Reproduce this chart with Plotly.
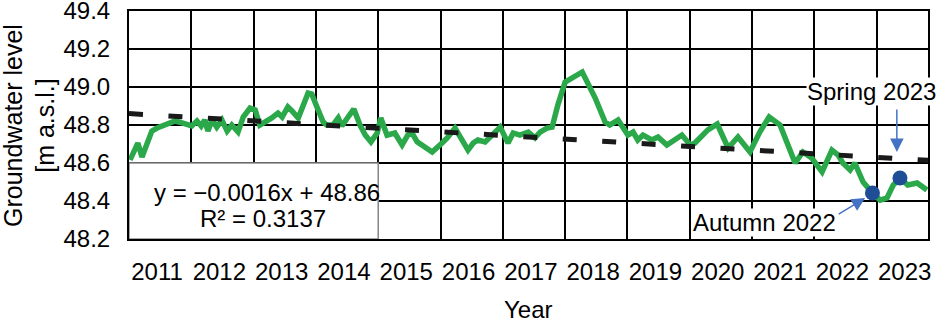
import plotly.graph_objects as go

# ---- data ----
# x = months since January 2011 (index used by the Excel trendline)
months = [0.2, 1.7, 2.5, 4.4, 5.4, 7.3, 8.9, 10.2, 12.1, 13.1, 13.9, 14.6, 15.2, 16.0, 16.9, 17.9,
          18.9, 19.8, 21.0, 22.0, 23.3, 24.3, 25.2, 27.5, 28.7, 29.5, 30.6, 31.4, 32.6, 34.5, 35.2,
          36.2, 37.4, 38.1, 39.3, 40.3, 41.0, 42.2, 43.3, 44.5, 45.5, 46.6, 47.8, 48.5, 49.7, 51.2,
          52.6, 53.7, 54.5, 55.5, 56.4, 58.4, 60.3, 61.3, 62.8, 64.1, 65.3, 66.3, 67.2, 68.6, 69.9,
          71.5, 73.0, 74.0, 75.3, 76.9, 78.2, 79.2, 80.5, 81.5, 82.6, 84.0, 87.3, 89.8, 91.7, 92.6,
          94.2, 96.1, 97.1, 98.0, 99.0, 100.7, 101.9, 103.6, 106.5, 108.1, 109.0, 111.5, 113.3, 115.4,
          117.3, 119.6, 121.5, 123.3, 125.4, 126.7, 128.3, 129.8, 131.5, 133.5, 135.4, 136.6, 137.5,
          138.9, 139.8, 141.4, 143.2, 144.7, 146.0, 147.2, 148.5, 150.0, 151.8, 153.7]
levels = [48.616, 48.705, 48.632, 48.768, 48.784, 48.800, 48.821, 48.811, 48.795, 48.821, 48.795,
          48.826, 48.768, 48.826, 48.789, 48.826, 48.768, 48.800, 48.763, 48.842, 48.889, 48.879,
          48.800, 48.837, 48.863, 48.842, 48.895, 48.874, 48.837, 48.968, 48.963, 48.895, 48.816,
          48.800, 48.800, 48.837, 48.795, 48.842, 48.884, 48.800, 48.747, 48.711, 48.758, 48.837,
          48.747, 48.758, 48.695, 48.747, 48.758, 48.711, 48.695, 48.658, 48.705, 48.732, 48.784,
          48.721, 48.668, 48.705, 48.721, 48.711, 48.747, 48.789, 48.705, 48.758, 48.747, 48.763,
          48.732, 48.763, 48.784, 48.789, 48.905, 49.026, 49.079, 48.942, 48.816, 48.800, 48.826,
          48.747, 48.763, 48.721, 48.747, 48.721, 48.737, 48.695, 48.747, 48.695, 48.705, 48.774,
          48.805, 48.679, 48.737, 48.658, 48.763, 48.842, 48.800, 48.711, 48.600, 48.658, 48.626,
          48.553, 48.668, 48.642, 48.600, 48.563, 48.600, 48.500, 48.442, 48.405, 48.416, 48.484,
          48.521, 48.484, 48.495, 48.458]

# trendline y = -0.0016x + 48.86 : end points
trend_x = [0, 153.9]
trend_y = [48.86, 48.614]

# highlighted observations
obs_names = ["Autumn 2022", "Spring 2023"]
obs_x = [143.2, 148.5]
obs_y = [48.442, 48.521]

years = list(range(2011, 2024))
year_labels = [str(y) for y in years]
year_starts = [12 * i for i in range(len(years))]

y_ticks = [48.2, 48.4, 48.6, 48.8, 49.0, 49.2, 49.4]
y_labels = ["48.2", "48.4", "48.6", "48.8", "49.0", "49.2", "49.4"]

FONT = "Liberation Sans, Arial, sans-serif"

fig = go.Figure()
fig.add_trace(go.Scatter(x=months, y=levels, mode="lines",
                         line=dict(color="#2aa84a", width=5.5), showlegend=False))
fig.add_trace(go.Scatter(x=trend_x, y=trend_y, mode="lines",
                         line=dict(color="#1a1a1a", width=5, dash="14px,25.5px"), showlegend=False))
fig.add_trace(go.Scatter(x=obs_x, y=obs_y, mode="markers",
                         marker=dict(color="#1f4e96", size=15), showlegend=False))

# equation box
fig.add_shape(type="rect", x0=0, x1=48, y0=48.2, y1=48.6, xref="x", yref="y",
              fillcolor="white", line=dict(color="#8c8c8c", width=1.5), layer="above")

ann_font = dict(family=FONT, size=24, color="black")
fig.add_annotation(x=26.6, y=48.447, xref="x", yref="y", text="y = \u22120.0016x + 48.86",
                   showarrow=False, font=ann_font)
fig.add_annotation(x=25.8, y=48.31, xref="x", yref="y", text="R\u00b2 = 0.3137",
                   showarrow=False, font=ann_font)

# labels with white background
fig.add_annotation(x=143.1, y=48.974, xref="x", yref="y", text=obs_names[1],
                   showarrow=False, font=ann_font, bgcolor="white", borderpad=0)
fig.add_annotation(x=122.5, y=48.289, xref="x", yref="y", text=obs_names[0],
                   showarrow=False, font=ann_font, bgcolor="white", borderpad=0)

# arrows
arrow_col = "#4472C4"
fig.add_annotation(x=147.9, y=48.658, xref="x", yref="y", text="", showarrow=True,
                   ax=0, ay=-44, arrowhead=2, arrowsize=1.8, arrowwidth=1.5, arrowcolor=arrow_col)
fig.add_annotation(x=141.8, y=48.416, xref="x", yref="y", text="", showarrow=True,
                   ax=-28, ay=17, arrowhead=2, arrowsize=1.8, arrowwidth=1.5, arrowcolor=arrow_col)

# axis titles
fig.add_annotation(x=-0.1252, y=0.5, xref="paper", yref="paper",
                   text="Groundwater level<br>[m a.s.l.]", textangle=-90,
                   showarrow=False, font=dict(family=FONT, size=25, color="black"),
                   xanchor="center", yanchor="middle")
fig.add_annotation(x=0.5, y=-0.311, xref="paper", yref="paper", text="Year",
                   showarrow=False, font=ann_font, xanchor="center", yanchor="middle")

fig.update_xaxes(range=[0, 153.9], tickmode="array",
                 tickvals=[s + 5.4 for s in year_starts], ticktext=year_labels,
                 showgrid=False, zeroline=False, ticks="", automargin=False,
                 showline=True, mirror=True, linecolor="black", linewidth=2,
                 tickfont=dict(family=FONT, size=24, color="black"),
                 ticklabelstandoff=10, ticklabeloverflow="allow",
                 minor=dict(tickmode="array", tickvals=year_starts, showgrid=True,
                            gridcolor="black", gridwidth=1.5, ticks=""))
fig.update_yaxes(range=[48.2, 49.4], tickmode="array", tickvals=y_ticks, ticktext=y_labels,
                 showgrid=True, gridcolor="black", gridwidth=1.5, zeroline=False, ticks="",
                 showline=True, mirror=True, linecolor="black", linewidth=2, automargin=False,
                 tickfont=dict(family=FONT, size=24, color="black"),
                 ticklabelstandoff=12, ticklabeloverflow="allow")

fig.update_layout(width=938, height=319, margin=dict(l=129, r=10, t=11, b=80),
                  paper_bgcolor="white", plot_bgcolor="white", showlegend=False)

fig.write_html("out.html")
